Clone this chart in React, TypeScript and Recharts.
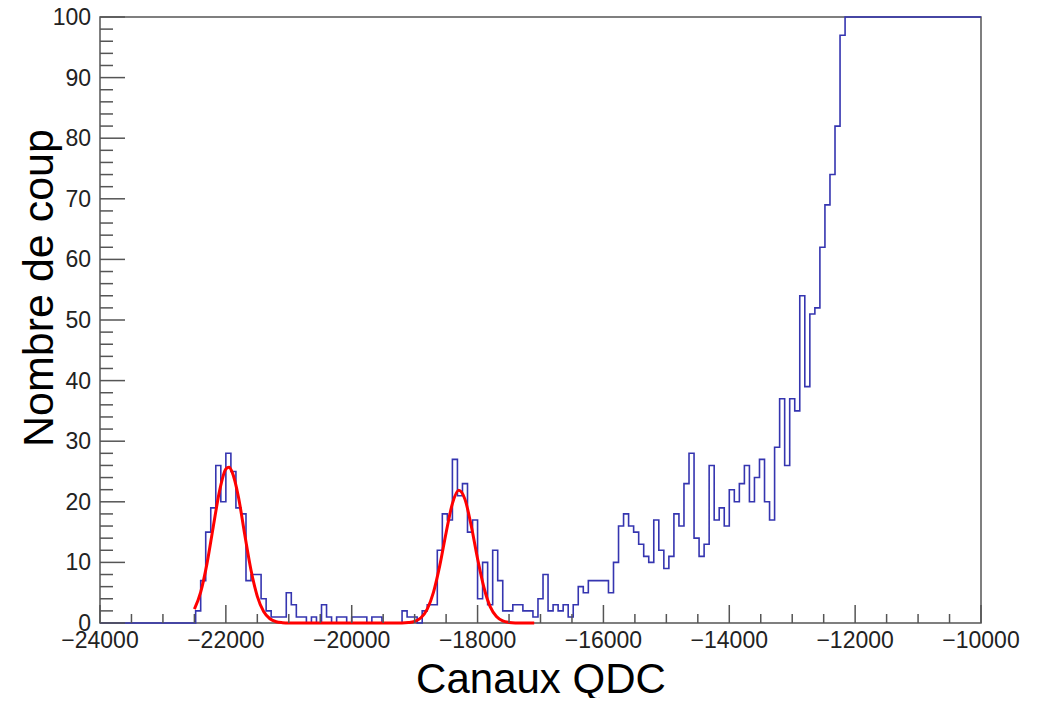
import React from "react";
import { ComposedChart, Line, XAxis, YAxis, ReferenceArea } from "recharts";

// histogram: 80-channel bins starting at -22480, everything left of it is empty
const BIN_START = -22480;
const BIN_WIDTH = 80;
const COUNTS = [
  2, 7, 15, 19, 26, 20, 28, 25, 19, 18, 7, 8, 8, 4, 2, 1, 1, 1, 5, 3,
  1, 1, 0, 1, 0, 3, 1, 0, 1, 1, 0, 1, 1, 1, 0, 1, 1, 0, 0, 0,
  0, 2, 1, 1, 0, 2, 3, 3, 12, 18, 17, 27, 21, 23, 15, 17, 4, 10, 3, 12,
  7, 2, 2, 3, 3, 2, 2, 1, 4, 8, 2, 3, 2, 3, 1, 3, 6, 5, 7, 7,
  7, 7, 5, 10, 16, 18, 16, 15, 13, 11, 10, 17, 12, 9, 11, 18, 16, 23, 28, 14,
  11, 13, 26, 17, 19, 16, 22, 20, 23, 26, 20, 24, 27, 20, 17, 29, 37, 26, 37, 35,
  54, 39, 51, 52, 62, 69, 74, 82, 97, 100, 100, 100, 100, 100, 100, 100, 100, 100,
  100, 100, 100, 100, 100, 100, 100, 100, 100, 100, 100, 100, 100, 100, 100, 100, 100, 100,
];

// double gaussian fit
const FIT_X = [
  -22500, -22400, -22300, -22200, -22100, -22000, -21950, -21900, -21800, -21700,
  -21600, -21500, -21400, -21300, -21200, -21100, -21000, -20500, -20000, -19500,
  -19200, -19100, -19000, -18900, -18800, -18700, -18600, -18500, -18400, -18300,
  -18200, -18100, -18000, -17900, -17800, -17700, -17600, -17500, -17400, -17100,
];
const FIT_Y = [
  2.3, 5.1, 9.8, 15.9, 21.8, 25.4, 25.7, 24.9, 20.8, 14.6,
  8.7, 4.4, 1.9, 0.7, 0.2, 0.05, 0, 0, 0, 0,
  0, 0.07, 0.27, 0.87, 2.3, 5.1, 9.5, 14.9, 19.7, 21.9,
  20.4, 16.0, 10.6, 5.9, 2.7, 1.07, 0.35, 0.1, 0.02, 0,
];

const X_TICKS = [
  -24000, -23500, -23000, -22500, -22000, -21500, -21000, -20500, -20000, -19500,
  -19000, -18500, -18000, -17500, -17000, -16500, -16000, -15500, -15000, -14500,
  -14000, -13500, -13000, -12500, -12000, -11500, -11000, -10500, -10000,
];
const Y_TICKS = [
  0, 2, 4, 6, 8, 10, 12, 14, 16, 18, 20, 22, 24, 26, 28, 30, 32, 34, 36, 38, 40,
  42, 44, 46, 48, 50, 52, 54, 56, 58, 60, 62, 64, 66, 68, 70, 72, 74, 76, 78, 80,
  82, 84, 86, 88, 90, 92, 94, 96, 98, 100,
];

const histData = [
  { x: -24000, count: 0 },
  ...COUNTS.map((c, i) => ({ x: BIN_START + i * BIN_WIDTH, count: c })),
  { x: -10000, count: COUNTS[COUNTS.length - 1] },
];
const fitData = FIT_X.map((x, i) => ({ x, fit: FIT_Y[i] }));

const FONT = "'Liberation Sans', Arial, sans-serif";
const AXIS = "#555";

function XTick({ x, y, payload }: any) {
  const major = payload.value % 2000 === 0;
  return (
    <g>
      <line x1={x} y1={y} x2={x} y2={y - (major ? 18 : 9)} stroke={AXIS} strokeWidth={1.5} />
      {major && (
        <text x={x} y={y + 25} textAnchor="middle" fontSize={23} fontFamily={FONT} fill="#222">
          {"\u2212" + Math.abs(payload.value)}
        </text>
      )}
    </g>
  );
}

function YTick({ x, y, payload }: any) {
  const major = payload.value % 10 === 0;
  return (
    <g>
      <line x1={x} y1={y} x2={x + (major ? 25 : 13)} y2={y} stroke={AXIS} strokeWidth={1.5} />
      {major && (
        <text x={x - 9} y={y + 8} textAnchor="end" fontSize={23} fontFamily={FONT} fill="#222">
          {payload.value}
        </text>
      )}
    </g>
  );
}

export default function App() {
  return (
    <div style={{ position: "relative", width: 1030, height: 698, marginTop: -8 }}>
      <ComposedChart width={1030} height={698} data={histData} margin={{ top: 17, right: 57, bottom: 0, left: 0 }}>
        <ReferenceArea
          x1={-24000}
          x2={-10000}
          y1={0}
          y2={100}
          fill="none"
          fillOpacity={0}
          stroke={AXIS}
          strokeWidth={1.5}
          ifOverflow="visible"
        />
        <XAxis
          type="number"
          dataKey="x"
          domain={[-24000, -10000]}
          ticks={X_TICKS}
          interval={0}
          tick={<XTick />}
          tickSize={0}
          tickMargin={0}
          axisLine={false}
          tickLine={false}
          height={75}
        />
        <YAxis
          type="number"
          domain={[0, 100]}
          ticks={Y_TICKS}
          interval={0}
          tick={<YTick />}
          tickSize={0}
          tickMargin={0}
          axisLine={false}
          tickLine={false}
          width={92}
        />
        <Line
          dataKey="count"
          type="stepAfter"
          stroke="#3535b0"
          strokeWidth={1.6}
          dot={false}
          activeDot={false}
          isAnimationActive={false}
        />
        <Line
          data={fitData}
          dataKey="fit"
          type="monotone"
          stroke="#ff0000"
          strokeWidth={3}
          dot={false}
          activeDot={false}
          isAnimationActive={false}
        />
      </ComposedChart>
      <svg width={1030} height={698} style={{ position: "absolute", left: 0, top: 0, pointerEvents: "none", overflow: "visible" }}>
        <text x={533} y={693} textAnchor="middle" fontSize={42} fontFamily={FONT} fill="#000">
          Canaux QDC
        </text>
        <text
          transform="translate(45, 288) rotate(-90)"
          textAnchor="middle"
          fontSize={43}
          fontFamily={FONT}
          fill="#000"
        >
          Nombre de coup
        </text>
      </svg>
    </div>
  );
}
